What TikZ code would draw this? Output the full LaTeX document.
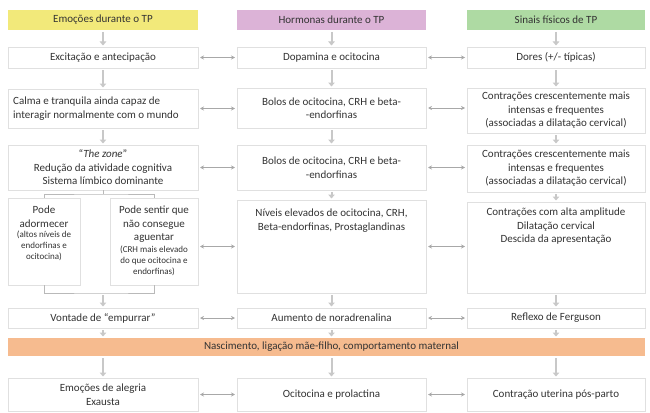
\documentclass[tikz,border=0pt]{standalone}
\usepackage{fontspec}
\setmainfont{Carlito}
\usetikzlibrary{arrows.meta}
\definecolor{hy}{HTML}{F2E97A}
\definecolor{hp}{HTML}{DCB3D7}
\definecolor{hg}{HTML}{AEDAA3}
\definecolor{bo}{HTML}{F6BB8F}
\definecolor{bd}{HTML}{E0E0E0}
\definecolor{tx}{HTML}{333333}
\definecolor{ar}{HTML}{C8C8C8}
\definecolor{ha}{HTML}{A8A8A8}
\begin{document}
\begin{tikzpicture}[x=1pt,y=-1pt,
  box/.style={draw=bd, line width=0.6pt, fill=white, anchor=north west, inner sep=0pt, outer sep=0pt},
  head/.style={box, draw=none},
  txt/.style={text=tx, font=\fontsize{11}{13.5}\selectfont, align=center, inner sep=0pt},
  smalltxt/.style={text=tx, font=\fontsize{9}{11}\selectfont, align=center, inner sep=0pt},
  varr/.style={draw=ar, line width=2pt, -{Triangle[length=4pt,width=6.5pt]}, shorten <=2pt, shorten >=1.5pt},
  harr/.style={draw=ha, line width=0.8pt, {Stealth[length=4pt,width=4pt]}-{Stealth[length=4pt,width=4pt]}, shorten <=2pt, shorten >=2pt},
  brk/.style={draw=ha!80, line width=0.8pt},
]
\useasboundingbox (0,0) rectangle (650,412);
% headers
\node[head, fill=hy, minimum width=190, minimum height=20] (h1) at (8,10) {};
\node[head, fill=hp, minimum width=189, minimum height=20] (h2) at (237,10) {};
\node[head, fill=hg, minimum width=178, minimum height=20] (h3) at (467,10) {};
\node[txt] (h1t) at (h1.center) {Emoções durante o TP};
\node[txt] (h2t) at (h2.center) {Hormonas durante o TP};
\node[txt] (h3t) at (h3.center) {Sinais físicos de TP};
% row 1
\node[box, minimum width=190, minimum height=21] (a1) at (8,47) {};
\node[box, minimum width=189, minimum height=21] (b1) at (237,47) {};
\node[box, minimum width=178, minimum height=21] (c1) at (467,47) {};
\node[txt] (a1t) at (a1.center) {Excitação e antecipação};
\node[txt] (b1t) at (b1.center) {Dopamina e ocitocina};
\node[txt] (c1t) at (c1.center) {Dores (+/- típicas)};
% row 2
\node[box, minimum width=190, minimum height=39] (a2) at (8,89) {};
\node[box, minimum width=189, minimum height=40] (b2) at (237,88) {};
\node[box, minimum width=178, minimum height=45] (c2) at (467,88) {};
\node[txt, align=left, anchor=west] (a2t) at ([xshift=5pt]a2.west) {Calma e tranquila ainda capaz de\\interagir normalmente com o mundo};
\node[txt] (b2t) at (b2.center) {Bolos de ocitocina, CRH e beta-\\-endorfinas};
\node[txt] (c2t) at (c2.center) {Contrações crescentemente mais\\intensas e frequentes\\(associadas a dilatação cervical)};
% row 3
\node[box, minimum width=190, minimum height=45] (a3) at (8,145) {};
\node[box, minimum width=189, minimum height=45] (b3) at (237,145) {};
\node[box, minimum width=178, minimum height=47] (c3) at (467,145) {};
\node[txt] (a3t) at (a3.center) {“\textit{The zone}”\\Redução da atividade cognitiva\\Sistema límbico dominante};
\node[txt] (b3t) at (b3.center) {Bolos de ocitocina, CRH e beta-\\-endorfinas};
\node[txt] (c3t) at (c3.center) {Contrações crescentemente mais\\intensas e frequentes\\(associadas a dilatação cervical)};
% row 4
\node[box, minimum width=72, minimum height=87] (a4l) at (8,198) {};
\node[box, minimum width=88, minimum height=87] (a4r) at (110,198) {};
\node[box, minimum width=189, minimum height=93] (b4) at (237,200) {};
\node[box, minimum width=178, minimum height=91] (c4) at (467,202) {};
\node[txt, anchor=north] (a4lt) at ([yshift=-8pt]a4l.north) {Pode\\adormecer};
\node[smalltxt, anchor=north] (a4ls) at ([yshift=-3pt]a4lt.south) {(altos níveis de\\endorfinas e\\ocitocina)};
\node[txt, anchor=north] (a4rt) at ([yshift=-8pt]a4r.north) {Pode sentir que\\não consegue\\aguentar};
\node[smalltxt, anchor=north] (a4rs) at ([yshift=-3pt]a4rt.south) {(CRH mais elevado\\do que ocitocina e\\endorfinas)};
\node[txt, anchor=north] (b4t) at ([yshift=-9pt]b4.north) {Níveis elevados de ocitocina, CRH,\\Beta-endorfinas, Prostaglandinas};
\node[txt, anchor=north] (c4t) at ([yshift=-6pt]c4.north) {Contrações com alta amplitude\\Dilatação cervical\\Descida da apresentação};
% row 5
\node[box, minimum width=190, minimum height=20] (a5) at (8,308) {};
\node[box, minimum width=189, minimum height=20] (b5) at (237,308) {};
\node[box, minimum width=178, minimum height=20] (c5) at (467,308) {};
\node[txt] (a5t) at (a5.center) {Vontade de “empurrar”};
\node[txt] (b5t) at (b5.center) {Aumento de noradrenalina};
\node[txt] (c5t) at (c5.center) {Reflexo de Ferguson};
% band
\node[head, fill=bo, minimum width=637, minimum height=18] (band) at (8,338) {};
\node[txt] (bandt) at (band.center -| b1.center) {Nascimento, ligação mãe-filho, comportamento maternal};
% row 6
\node[box, minimum width=190, minimum height=33] (a6) at (8,378) {};
\node[box, minimum width=189, minimum height=33] (b6) at (237,378) {};
\node[box, minimum width=178, minimum height=33] (c6) at (467,378) {};
\node[txt] (a6t) at (a6.center) {Emoções de alegria\\Exausta};
\node[txt] (b6t) at (b6.center) {Ocitocina e prolactina};
\node[txt] (c6t) at (c6.center) {Contração uterina pós-parto};
% vertical arrows col 1
\draw[varr] (h1) -- (a1);
\draw[varr] (a1) -- (a2);
\draw[varr] (a2) -- (a3);
\coordinate (t1) at (103,194);
\draw[brk] (a3.south) -- (t1);
\draw[brk] (a4l.north) |- (t1) -| (a4r.north);
\coordinate (m1) at (103,293);
\draw[brk] (a4l.south) |- (m1) -| (a4r.south);
\draw[varr] (m1) -- (a5.north);
\draw[varr] (a5.south) -- (a5.south |- band.north);
\draw[varr] (a6.north |- band.south) -- (a6.north);
% col 2
\draw[varr] (h2) -- (b1);
\draw[varr] (b1) -- (b2);
\draw[varr] (b2) -- (b3);
\draw[varr] (b3) -- (b4);
\draw[varr] (b4) -- (b5);
\draw[varr] (b5.south) -- (b5.south |- band.north);
\draw[varr] (b6.north |- band.south) -- (b6.north);
% col 3
\draw[varr] (h3) -- (c1);
\draw[varr] (c1) -- (c2);
\draw[varr] (c2) -- (c3);
\draw[varr] (c3) -- (c4);
\draw[varr] (c4) -- (c5);
\draw[varr] (c5.south) -- (c5.south |- band.north);
\draw[varr] (c6.north |- band.south) -- (c6.north);
% horizontal arrows
\draw[harr] (a1.east) -- (b1.west);
\draw[harr] (b1.east) -- (c1.west);
\draw[harr] (a2.east) -- (a2.east -| b2.west);
\draw[harr] (b2.east) -- (b2.east -| c2.west);
\draw[harr] (a3.east) -- (b3.west);
\draw[harr] (b3.east) -- (b3.east -| c3.west);
\draw[harr] (b4.west -| a4r.east) -- (b4.west);
\draw[harr] (b4.east) -- (b4.east -| c4.west);
\draw[harr] (a5.east) -- (b5.west);
\draw[harr] (b5.east) -- (c5.west);
\draw[harr] (a6.east) -- (b6.west);
\draw[harr] (b6.east) -- (c6.west);
\end{tikzpicture}
\end{document}
